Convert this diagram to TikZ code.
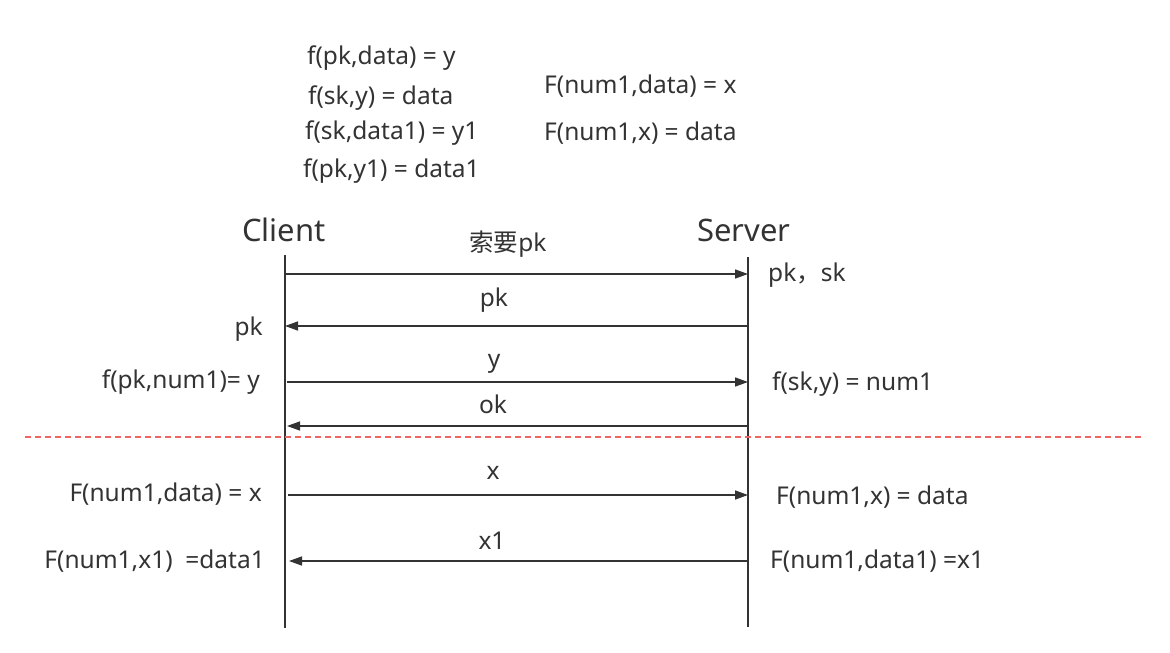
\documentclass[tikz,border=0pt]{standalone}
\usepackage{fontspec}
\setmainfont{Noto Sans}
\newfontfamily\cjk{Noto Sans CJK SC}
\usetikzlibrary{arrows.meta}
\definecolor{ink}{HTML}{333333}
\definecolor{sep}{HTML}{F06464}
\begin{document}
\begin{tikzpicture}[x=1pt,y=-1pt,
  txt/.style={inner sep=0pt,text=ink,font=\fontsize{24.5}{28}\selectfont},
  head/.style={inner sep=0pt,text=ink,font=\fontsize{31}{34}\selectfont},
  life/.style={draw=ink,line width=1.3pt},
  msg/.style={draw=ink,line width=1.5pt,-{Triangle[length=13pt,width=9pt]}},
  sepline/.style={draw=sep,line width=1.3pt,dash pattern=on 6pt off 4pt}]
\useasboundingbox (0,0) rectangle (1170,653);
% top formulas
\node[txt,anchor=west] (t1) at (307,58) {f(pk,data) = y};
\node[txt,anchor=west] (t2) at (308,98) {f(sk,y) = data};
\node[txt,anchor=west] (t3) at (305,133) {f(sk,data1) = y1};
\node[txt,anchor=west] (t4) at (303,171) {f(pk,y1) = data1};
\node[txt,anchor=west] (t5) at (544,86) {F(num1,data) = x};
\node[txt,anchor=west] (t6) at (544,133) {F(num1,x) = data};
% headers
\node[head] (client) at (284,230) {Client};
\node[head] (server) at (744,230) {Server};
% lifelines
\coordinate (ctop) at (285,255);
\coordinate (cbot) at (285,628);
\coordinate (stop) at (748,257);
\coordinate (sbot) at (748,627);
\draw[life] (ctop) -- (cbot);
\draw[life] (stop) -- (sbot);
% message points
\coordinate (c1) at (285,274); \coordinate (s1) at (748,274);
\coordinate (c2) at (285,326); \coordinate (s2) at (748,326);
\coordinate (c3) at (287,382); \coordinate (s3) at (748,382);
\coordinate (c4) at (287,426); \coordinate (s4) at (748,426);
\coordinate (c5) at (288,495); \coordinate (s5) at (748,495);
\coordinate (c6) at (289,561); \coordinate (s6) at (748,561);
\draw[msg] (c1) -- (s1);
\draw[msg] (s2) -- (c2);
\draw[msg] (c3) -- (s3);
\draw[msg] (s4) -- (c4);
\draw[msg] (c5) -- (s5);
\draw[msg] (s6) -- (c6);
% message labels
\node[txt] (m1) at (508,244) {{\cjk 索要}pk};
\node[txt] (m2) at (494,300) {pk};
\node[txt] (m3) at (494,364) {y};
\node[txt] (m4) at (493,404) {ok};
\node[txt] (m5) at (493,473) {x};
\node[txt] (m6) at (492,541) {x1};
% side labels
\node[txt,anchor=west] (r1) at (768,275) {pk{\cjk ，}sk};
\node[txt,anchor=east] (l2) at (263,329) {pk};
\node[txt,anchor=east] (l3) at (260,382) {f(pk,num1)= y};
\node[txt,anchor=west] (r3) at (772,384) {f(sk,y) = num1};
\node[txt,anchor=east] (l5) at (262,494) {F(num1,data) = x};
\node[txt,anchor=west] (r5) at (776,497) {F(num1,x) = data};
\node[txt,anchor=east] (l6) at (265,561) {F(num1,x1)\ \ =data1};
\node[txt,anchor=west] (r6) at (770,561) {F(num1,data1) =x1};
% separator
\coordinate (dl) at (25,437);
\coordinate (dr) at (1145,437);
\draw[sepline] (dl) -- (dr);
\end{tikzpicture}
\end{document}
